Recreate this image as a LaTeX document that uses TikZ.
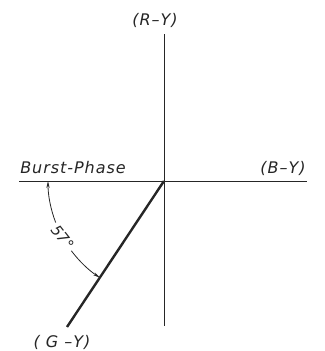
\documentclass[tikz,border=0pt]{standalone}
\usepackage{fontspec}
\setmainfont{DejaVu Sans}[LetterSpace=6]
\newfontfamily\angfont{DejaVu Sans}
\usetikzlibrary{arrows.meta,calc}
\tikzset{
  axis/.style={line width=0.9bp, draw=black!85},
  vec/.style={line width=2.4bp, draw=black!85},
  angarc/.style={line width=0.8bp, draw=black!85},
  lbl/.style={inner sep=0pt, font=\fontsize{16bp}{19bp}\selectfont\itshape, text=black!85},
  anglbl/.style={inner sep=0pt, font=\fontsize{15bp}{18bp}\angfont\itshape, text=black!85},
  tip/.style={-{Stealth[length=7bp,width=3.2bp]}}
}
\begin{document}
\begin{tikzpicture}[x=1bp,y=1bp]
\useasboundingbox (0,0) rectangle (325,351);
\coordinate (O) at (164,170);
\coordinate (top) at (164,317);
\coordinate (bot) at (164,25);
\coordinate (left) at (19,170);
\coordinate (right) at (307,170);
\coordinate (gend) at (67,24);
\draw[axis] (bot) -- (top);
\draw[axis] (left) -- (right);
\draw[vec] (O) -- (gend);
\node[lbl] (ry) at (155,331) {(R–Y)};
\node[lbl] (by) at (283,183) {(B–Y)};
\node[lbl] (bp) at (73,183) {Burst-Phase};
\node[lbl] (gy) at (62,9) {( G –Y)};
\node[anglbl, rotate=-52] (ang) at ($(O)+(209:116)$) {57°};
\draw[angarc, tip] (O) ++(201:116) arc[start angle=201, end angle=180, radius=116];
\draw[angarc, tip] (O) ++(217:116) arc[start angle=217, end angle=236.4, radius=116];
\end{tikzpicture}
\end{document}
